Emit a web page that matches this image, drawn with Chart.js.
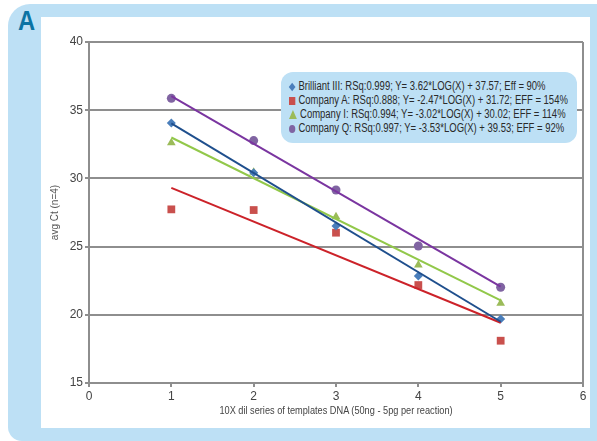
<!DOCTYPE html>
<html>
<head>
<meta charset="utf-8">
<script src="https://cdn.jsdelivr.net/npm/chart.js@4.4.0/dist/chart.umd.min.js"></script>
<style>
  html, body { margin: 0; padding: 0; background: #fff; }
  body { width: 597px; height: 441px; position: relative; overflow: hidden; }
  .frame { position: absolute; left: 8px; top: 4px; width: 589px; height: 437px;
           background: #bde0f5; border-radius: 22px 0 0 14px; }
  .panel { position: absolute; left: 41px; top: 17px; width: 549px; height: 411px; background: #fff; }
  .tag { position: absolute; left: 18px; top: 5px; font: bold 28px 'Liberation Sans', sans-serif;
         color: #0b73a3; transform: scaleX(0.85); transform-origin: left top; }
  #wrap { position: absolute; left: 0; top: 0; width: 597px; height: 441px; }
  .legend { position: absolute; left: 281px; top: 72px; width: 296px; height: 71px;
            background: #bde0f5; border-radius: 12px; }
  .legend .rows { position: absolute; left: 8px; top: 7px; transform: scaleX(0.79); transform-origin: left top;
            font: 12px 'Liberation Sans', sans-serif; color: #2a2a2a; }
  .legend .rows div { height: 14px; line-height: 14px; white-space: nowrap; }
  .mk { display: inline-block; width: 8px; height: 8px; margin-right: 4px; vertical-align: -1px; }
  .xtitle { position: absolute; left: 0; width: 840px; top: 404px; text-align: center;
            font: 11.5px 'Liberation Sans', sans-serif; color: #444;
            transform: scaleX(0.8); transform-origin: 0 0; white-space: nowrap; }
</style>
</head>
<body>
<div class="frame"></div>
<div class="panel"></div>
<div class="tag">A</div>
<div id="wrap"><canvas id="chart"></canvas></div>
<div class="legend"><div class="rows" id="legend"></div></div>
<div class="xtitle" id="xtitle"></div>
<script>
// ====== DADOS ======
const dilutions = [1, 2, 3, 4, 5];
const brilliant = [34.06, 30.42, 26.51, 22.84, 19.69];
const companyA = [27.73, 27.68, 26.02, 22.18, 18.10];
const companyI = [32.62, 30.45, 27.19, 23.65, 20.84];
const companyQ = [35.87, 32.77, 29.15, 25.04, 22.02];

// linhas de tendência (extremos)
const trendX = [1, 5];
const brilliantTrend = [34.04, 19.49];
const companyATrend = [29.3, 19.42];
const companyITrend = [33.0, 21.05];
const companyQTrend = [36.04, 22.06];

const yTicks = [15, 20, 25, 30, 35, 40];
const xTicks = [0, 1, 2, 3, 4, 5, 6];

const legendLabels = [
    'Brilliant III:  RSq:0.999; Y= 3.62*LOG(X) + 37.57; Eff = 90%',
    'Company A: RSq:0.888; Y= -2.47*LOG(X) + 31.72; EFF = 154%',
    'Company I: RSq:0.994; Y= -3.02*LOG(X) + 30.02; EFF = 114%',
    'Company Q: RSq:0.997; Y= -3.53*LOG(X) + 39.53; EFF = 92%'
];
const xTitle = '10X dil series of templates DNA (50ng - 5pg per reaction)';
const yTitle = 'avg Ct (n=4)';

const FONT = "'Liberation Sans', sans-serif";
const GRID = '#8e8e8e';

const series = [
    { values: brilliant, trend: brilliantTrend, marker: '#4a7ebb', line: '#1f4f8d', style: 'rectRot', r: 4.5 },
    { values: companyA, trend: companyATrend, marker: '#c9504d', line: '#cc2229', style: 'rect', r: 5.5 },
    { values: companyI, trend: companyITrend, marker: '#9bbb59', line: '#92c84a', style: 'triangle', r: 5 },
    { values: companyQ, trend: companyQTrend, marker: '#8064a2', line: '#7a35a0', style: 'circle', r: 4.5 }
];

const datasets = [];
series.forEach((s, i) => {
    datasets.push({
        type: 'scatter',
        label: legendLabels[i],
        data: dilutions.map((x, k) => ({ x: x, y: s.values[k] })),
        pointStyle: s.style,
        pointRadius: s.r,
        backgroundColor: s.marker,
        borderColor: s.marker,
        borderWidth: 0,
        order: 2
    });
    datasets.push({
        type: 'line',
        label: 'trend ' + i,
        data: trendX.map((x, k) => ({ x: x, y: s.trend[k] })),
        borderColor: s.line,
        borderWidth: 2,
        pointRadius: 0,
        fill: false,
        order: 1
    });
});

// legenda em HTML
const shapes = ['transform: rotate(45deg) scale(0.75);', '', 'width:0;height:0;border-left:5px solid transparent;border-right:5px solid transparent;border-bottom:9px solid #9bbb59;', 'border-radius:50%;'];
document.getElementById('legend').innerHTML = legendLabels.map((t, i) => {
    const bg = i === 2 ? '' : 'background:' + series[i].marker + ';';
    return `<div><span class="mk" style="${bg}${shapes[i]}"></span>${t}</div>`;
}).join('');
document.getElementById('xtitle').textContent = xTitle;

new Chart(document.getElementById('chart'), {
    data: { datasets: datasets },
    options: {
        responsive: true,
        maintainAspectRatio: false,
        animation: false,
        layout: { padding: { left: 41, top: 42, right: 14, bottom: 13 } },
        plugins: {
            legend: { display: false },
            tooltip: { enabled: false }
        },
        scales: {
            x: {
                type: 'linear',
                min: 0,
                max: 6,
                afterBuildTicks: (axis) => { axis.ticks = xTicks.map(v => ({ value: v })); },
                afterFit: (axis) => { axis.height = 45; },
                border: { color: GRID, width: 2 },
                grid: {
                    color: (ctx) => ctx.tick && ctx.tick.value === 6 ? GRID : 'rgba(0,0,0,0)',
                    lineWidth: 2,
                    tickColor: GRID,
                    tickLength: 4
                },
                ticks: { color: '#444', font: { family: FONT, size: 12 }, padding: 2 },
                title: { display: false }
            },
            y: {
                min: 15,
                max: 40,
                afterBuildTicks: (axis) => { axis.ticks = yTicks.map(v => ({ value: v })); },
                afterFit: (axis) => { axis.width = 48; },
                border: { color: GRID, width: 2 },
                grid: { color: GRID, lineWidth: 2, tickColor: GRID, tickLength: 4 },
                ticks: { color: '#444', font: { family: FONT, size: 12 }, padding: 2 },
                title: {
                    display: true,
                    text: yTitle,
                    color: '#555',
                    font: { family: FONT, size: 10 },
                    padding: { bottom: 2, top: 8 }
                }
            }
        }
    }
});
</script>
</body>
</html>
